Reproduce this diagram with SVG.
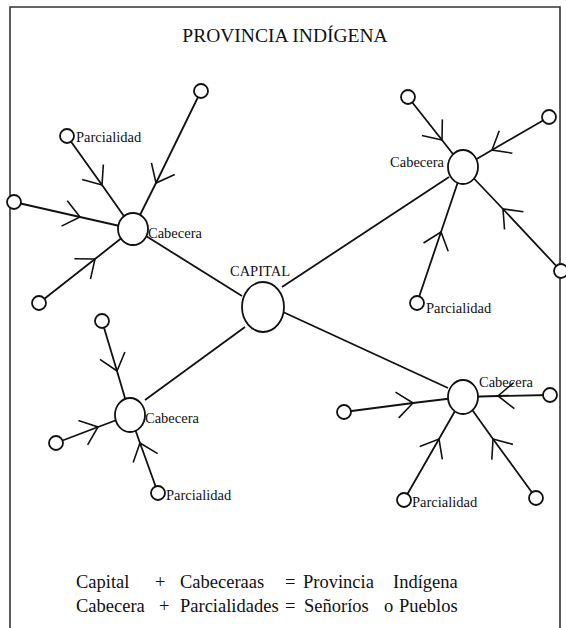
<svg xmlns="http://www.w3.org/2000/svg" width="566" height="628" viewBox="0 0 566 628">
<defs>
<style>
.ln{fill:none;stroke:#111;stroke-width:1.8}
.sp{fill:none;stroke:#111;stroke-width:1.8;marker-mid:url(#arr)}
.nd{fill:#fff;stroke:#111;stroke-width:1.8}
text{font-family:'Liberation Serif','DejaVu Serif',serif;fill:#111}
.lbl{font-size:14.5px}
.leg{font-size:18.5px}
</style>
<marker id="arr" markerUnits="userSpaceOnUse" markerWidth="40" markerHeight="40" viewBox="-20 -20 40 40" refX="0" refY="0" orient="auto" overflow="visible">
<path d="M-16,-13 L0,0 L-16,13" fill="none" stroke="#111" stroke-width="1.6"/>
</marker>
</defs>
<rect width="566" height="628" fill="#fff"/>
<path d="M10,632 V7 H560 V632" fill="none" stroke="#333" stroke-width="1.6"/>
<text font-family="Liberation Serif, DejaVu Serif, serif" x="285" y="42" font-size="19.5" text-anchor="middle">PROVINCIA INDÍGENA</text>

<g id="connectors">
<path class="ln" d="M146,236 L242,296"/>
<path class="ln" d="M449,177 L282,287"/>
<path class="ln" d="M448,388 L283,312"/>
<path class="ln" d="M145,400 L245,327"/>
<path class="sp" d="M201,91 L156,183 L133,229"/>
<path class="sp" d="M67,136 L102,185 L133,229"/>
<path class="sp" d="M14,202 L80,217 L133,229"/>
<path class="sp" d="M39,303 L95,259 L133,229"/>
<path class="sp" d="M408,97 L442,140 L463,167"/>
<path class="sp" d="M549,117 L492,150 L463,167"/>
<path class="sp" d="M561,271 L503,209 L463,167"/>
<path class="sp" d="M417,303 L441,232 L463,167"/>
<path class="sp" d="M102,321 L117,371 L130,415"/>
<path class="sp" d="M56,443 L98,427 L130,415"/>
<path class="sp" d="M158,493 L140,443 L130,415"/>
<path class="sp" d="M344,412 L413,403 L463,397"/>
<path class="sp" d="M550,395 L498,396 L463,397"/>
<path class="sp" d="M404,500 L439,439 L463,397"/>
<path class="sp" d="M536,498 L493,439 L463,397"/>
</g>

<g id="capital">
<ellipse class="nd" cx="263" cy="307" rx="21" ry="25"/>
<text font-family="Liberation Serif, DejaVu Serif, serif" class="lbl" x="260" y="276" text-anchor="middle">CAPITAL</text>
</g>

<g id="cabecera-ul">
<ellipse class="nd" cx="133" cy="229" rx="15" ry="16"/>
<text font-family="Liberation Serif, DejaVu Serif, serif" class="lbl" x="148" y="238">Cabecera</text>
</g>
<g id="cabecera-ur">
<ellipse class="nd" cx="463" cy="167" rx="15" ry="17"/>
<text font-family="Liberation Serif, DejaVu Serif, serif" class="lbl" x="444" y="167" text-anchor="end">Cabecera</text>
</g>
<g id="cabecera-ll">
<ellipse class="nd" cx="130" cy="415" rx="15" ry="17"/>
<text font-family="Liberation Serif, DejaVu Serif, serif" class="lbl" x="145" y="423">Cabecera</text>
</g>
<g id="cabecera-lr">
<ellipse class="nd" cx="463" cy="397" rx="15" ry="17"/>
<text font-family="Liberation Serif, DejaVu Serif, serif" class="lbl" x="479" y="387">Cabecera</text>
</g>

<g id="ul-top"><circle class="nd" cx="201" cy="91" r="7"/></g>
<g id="ul-parcialidad"><circle class="nd" cx="67" cy="136" r="7"/><text font-family="Liberation Serif, DejaVu Serif, serif" class="lbl" x="76" y="142">Parcialidad</text></g>
<g id="ul-left"><circle class="nd" cx="14" cy="202" r="7"/></g>
<g id="ul-bottom"><circle class="nd" cx="39" cy="303" r="7"/></g>

<g id="ur-top"><circle class="nd" cx="408" cy="97" r="7"/></g>
<g id="ur-right"><circle class="nd" cx="549" cy="117" r="7"/></g>
<g id="ur-bottomright"><circle class="nd" cx="561" cy="271" r="7"/></g>
<g id="ur-parcialidad"><circle class="nd" cx="417" cy="303" r="7"/><text font-family="Liberation Serif, DejaVu Serif, serif" class="lbl" x="426" y="313">Parcialidad</text></g>

<g id="ll-top"><circle class="nd" cx="102" cy="321" r="7"/></g>
<g id="ll-left"><circle class="nd" cx="56" cy="443" r="7"/></g>
<g id="ll-parcialidad"><circle class="nd" cx="158" cy="493" r="7"/><text font-family="Liberation Serif, DejaVu Serif, serif" class="lbl" x="166" y="500">Parcialidad</text></g>

<g id="lr-left"><circle class="nd" cx="344" cy="412" r="7"/></g>
<g id="lr-right"><circle class="nd" cx="550" cy="395" r="7"/></g>
<g id="lr-parcialidad"><circle class="nd" cx="404" cy="500" r="7"/><text font-family="Liberation Serif, DejaVu Serif, serif" class="lbl" x="412" y="507">Parcialidad</text></g>
<g id="lr-bottomright"><circle class="nd" cx="536" cy="498" r="7"/></g>

<g id="legend" class="leg" font-family="Liberation Serif, DejaVu Serif, serif">
<text x="76" y="588">Capital</text>
<text x="155" y="588">+</text>
<text x="180" y="588">Cabeceraas</text>
<text x="285" y="588">=</text>
<text x="303" y="588">Provincia</text>
<text x="393" y="588">Indígena</text>
<text x="76" y="612">Cabecera</text>
<text x="159" y="612">+</text>
<text x="180" y="612">Parcialidades</text>
<text x="285" y="612">=</text>
<text x="304" y="612">Señoríos</text>
<text x="384" y="612">o</text>
<text x="399" y="612">Pueblos</text>
</g>
</svg>
